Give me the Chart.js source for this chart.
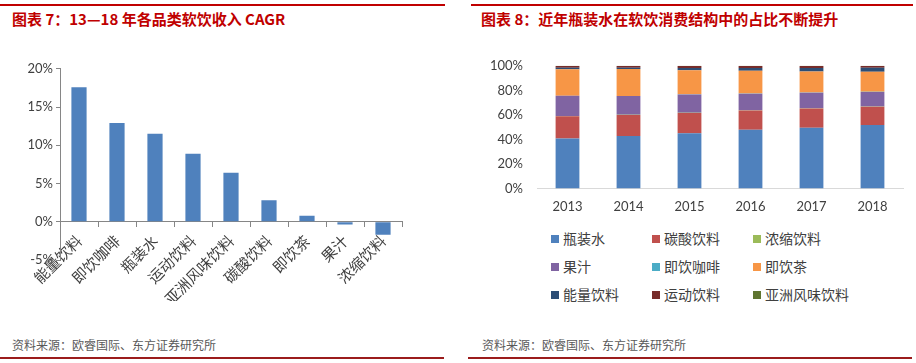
<!DOCTYPE html>
<html>
<head>
<meta charset="utf-8">
<script src="https://cdn.jsdelivr.net/npm/chart.js@4/dist/chart.umd.min.js"></script>
<style>
  body { margin: 0; width: 916px; height: 363px; background: #fff; position: relative; overflow: hidden;
         font-family: "Noto Sans CJK SC", sans-serif; }
  .rule-top { position: absolute; height: 2px; background: #C00000; top: 4px; }
  .rule-bottom { position: absolute; height: 2px; background: #9B1C1C; top: 357px; }
  .title { position: absolute; top: 8px; font-size: 15px; font-weight: bold; color: #C00000; white-space: nowrap; }
  .source { position: absolute; top: 336px; font-size: 12px; color: #595959; white-space: nowrap; }
  .box { position: absolute; }
  #legend { position: absolute; left: 551px; top: 228px; width: 320px; }
  .item { position: absolute; font-size: 14px; color: #404040; white-space: nowrap; line-height: 20px; }
  .item span { display: inline-block; width: 8px; height: 8px; margin-right: 4px; vertical-align: 1px; }
</style>
</head>
<body>
<div class="rule-top" style="left:0; width:445px"></div>
<div class="rule-top" style="left:471px; width:442px"></div>
<div class="title" style="left:12px">图表 7：13—18 年各品类软饮收入 CAGR</div>
<div class="title" style="left:481px">图表 8：近年瓶装水在软饮消费结构中的占比不断提升</div>

<div class="box" style="left:0; top:58px; width:445px; height:243px"><canvas id="cagrChart"></canvas></div>
<div class="box" style="left:458px; top:52px; width:458px; height:166px"><canvas id="shareChart"></canvas></div>
<div id="legend"></div>

<div class="source" style="left:12px">资料来源：欧睿国际、东方证券研究所</div>
<div class="source" style="left:482px">资料来源：欧睿国际、东方证券研究所</div>
<div class="rule-bottom" style="left:0; width:444px"></div>
<div class="rule-bottom" style="left:468px; width:444px"></div>

<script>
// Chart 7: revenue CAGR by category, 2013-2018 (%)
const cagrLabels = ['能量饮料', '即饮咖啡', '瓶装水', '运动饮料', '亚洲风味饮料', '碳酸饮料', '即饮茶', '果汁', '浓缩饮料'];
const cagrValues = [17.6, 12.9, 11.5, 8.9, 6.4, 2.8, 0.8, -0.35, -1.7];

// Chart 8: share of soft drink consumption (%)
const years = ['2013', '2014', '2015', '2016', '2017', '2018'];
const seriesNames = ['瓶装水', '碳酸饮料', '浓缩饮料', '果汁', '即饮咖啡', '即饮茶', '能量饮料', '运动饮料', '亚洲风味饮料'];
const bottledWater = [40.6, 42.7, 45.0, 47.8, 49.4, 51.7];
const carbonated   = [18.2, 17.1, 16.6, 15.8, 15.8, 14.9];
const concentrates = [0.2, 0.2, 0.2, 0.2, 0.2, 0.2];
const juice        = [16.5, 15.3, 14.8, 13.5, 12.6, 11.9];
const rtdCoffee    = [0.1, 0.1, 0.2, 0.2, 0.2, 0.2];
const rtdTea       = [21.6, 21.9, 19.6, 18.4, 17.1, 16.3];
const energy       = [1.2, 1.2, 1.9, 2.4, 2.9, 3.3];
const sports       = [1.4, 1.3, 1.5, 1.5, 1.6, 1.3];
const asian        = [0.2, 0.2, 0.2, 0.2, 0.2, 0.2];
const seriesColors = ['#4F81BD', '#C0504D', '#9BBB59', '#8064A2', '#4BACC6', '#F79646', '#2C4D75', '#772C2A', '#5F7530'];

const axisColor = '#868686';
const textColor = '#404040';
const numFont = { family: 'Lato, "Liberation Sans", sans-serif', size: 13 };
const cjkFont = { family: '"Noto Sans CJK SC", sans-serif', size: 15 };

// left chart
new Chart(document.getElementById('cagrChart'), {
    type: 'bar',
    data: {
        labels: cagrLabels,
        datasets: [{
            data: cagrValues,
            backgroundColor: '#4F81BD',
            categoryPercentage: 1.0,
            barPercentage: 0.4
        }]
    },
    options: {
        responsive: true,
        maintainAspectRatio: false,
        animation: false,
        layout: { padding: { top: 9, right: 43, bottom: 41, left: 0 } },
        plugins: { legend: { display: false }, tooltip: { enabled: false } },
        scales: {
            x: {
                position: { y: 0 },
                grid: { drawOnChartArea: false, color: axisColor, tickLength: 5 },
                border: { color: axisColor },
                ticks: { color: textColor, font: cjkFont, minRotation: 45, maxRotation: 45, padding: 5 }
            },
            y: {
                min: -5,
                max: 20,
                afterFit: scale => { scale.width = 60; },
                grid: { drawOnChartArea: false, color: axisColor, tickLength: 4 },
                border: { color: axisColor },
                ticks: { stepSize: 5, color: textColor, font: numFont, padding: 3, callback: v => v + '%' }
            }
        }
    }
});

// right chart
const shareSeries = [bottledWater, carbonated, concentrates, juice, rtdCoffee, rtdTea, energy, sports, asian];

new Chart(document.getElementById('shareChart'), {
    type: 'bar',
    data: {
        labels: years,
        datasets: shareSeries.map((values, i) => ({
            label: seriesNames[i],
            data: values,
            backgroundColor: seriesColors[i],
            categoryPercentage: 1.0,
            barPercentage: 0.39
        }))
    },
    options: {
        responsive: true,
        maintainAspectRatio: false,
        animation: false,
        layout: { padding: { top: 1, right: 13, bottom: 0, left: 0 } },
        plugins: { legend: { display: false }, tooltip: { enabled: false } },
        scales: {
            x: {
                stacked: true,
                grid: { display: false },
                border: { color: '#D9D9D9' },
                ticks: { color: textColor, font: numFont, padding: 3 }
            },
            y: {
                stacked: true,
                min: 0,
                max: 100,
                afterFit: scale => { scale.width = 79; },
                grid: { display: false },
                border: { display: false },
                ticks: { stepSize: 20, color: textColor, font: numFont, padding: 6, callback: v => v + '%' }
            }
        }
    }
});

// legend, 3 columns
const legend = document.getElementById('legend');
seriesNames.forEach((name, i) => {
    const item = document.createElement('div');
    item.className = 'item';
    item.style.left = (i % 3) * 101 + 'px';
    item.style.top = Math.floor(i / 3) * 28 + 'px';
    item.innerHTML = '<span style="background:' + seriesColors[i] + '"></span>' + name;
    legend.appendChild(item);
});
</script>
</body>
</html>
